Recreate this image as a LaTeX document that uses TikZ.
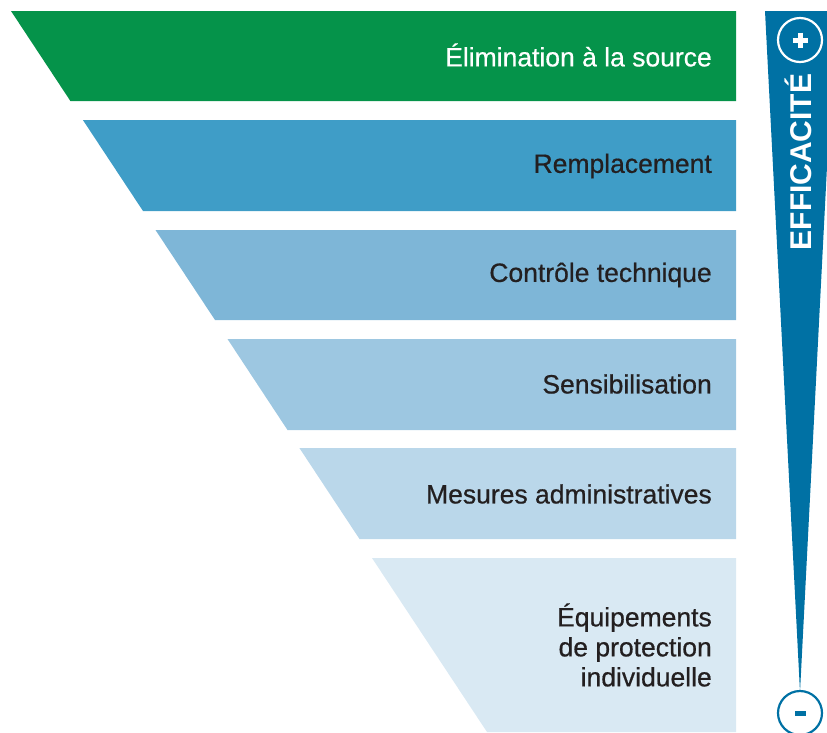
\documentclass[tikz,border=0pt]{standalone}
\usepackage{fontspec}
\setmainfont{Liberation Sans}
\definecolor{vert}{HTML}{05934A}
\definecolor{bleuA}{HTML}{3F9DC7}
\definecolor{bleuB}{HTML}{7EB6D7}
\definecolor{bleuC}{HTML}{9DC7E1}
\definecolor{bleuD}{HTML}{BAD7EA}
\definecolor{bleuE}{HTML}{D9E9F3}
\definecolor{barre}{HTML}{0071A4}
\definecolor{texte}{HTML}{231F20}
\tikzset{
  etiquette/.style={anchor=east, align=right, text=texte,
    font=\fontsize{26.5}{30}\selectfont\addfontfeatures{FakeBold=0.6}, inner sep=0pt},
}
\begin{document}
\begin{tikzpicture}[x=1pt, y=-1pt]
    \useasboundingbox (0,0) rectangle (827,732);
    % niveaux
    \fill[vert]  (11,11)   -- (736,11)  -- (736,101) -- (70.4,101) -- cycle;
    \fill[bleuA] (82.9,120) -- (736,120) -- (736,211) -- (143,211) -- cycle;
    \fill[bleuB] (155.5,230) -- (736,230) -- (736,320) -- (215,320) -- cycle;
    \fill[bleuC] (227.5,339) -- (736,339) -- (736,430) -- (287.5,430) -- cycle;
    \fill[bleuD] (299.4,448) -- (736,448) -- (736,539) -- (359.5,539) -- cycle;
    \fill[bleuE] (372,558) -- (736,558) -- (736,732) -- (487,732) -- cycle;
    \node[etiquette, text=white] (elim) at (712,55) {Élimination à la source};
    \node[etiquette] (rempl) at (712,166) {Remplacement};
    \node[etiquette] (ctrl) at (712,275) {Contrôle technique};
    \node[etiquette] (sensi) at (712,384) {Sensibilisation};
    \node[etiquette] (mesur) at (712,494) {Mesures administratives};
    \node[etiquette] (epi) at (712,645) {Équipements\\de protection\\individuelle};
    % barre d'efficacite
    \begin{scope}
        \clip (0,0) rectangle (827,732);
        \fill[barre] (765,11) -- (835,11) -- (800,692) -- cycle;
    \end{scope}
    \node[rotate=90, anchor=base, text=white, inner sep=0pt,
          font=\fontsize{30}{30}\bfseries\selectfont] (effic) at (811,162) {EFFICACITÉ};
    \node[circle, draw=white, line width=2.2pt, minimum size=44pt, inner sep=0pt] (plus) at (800,40) {};
    \draw[white, line width=5pt] (plus.center) ++(-7.5,0) -- ++(15,0);
    \draw[white, line width=5pt] (plus.center) ++(0,-7.5) -- ++(0,15);
    \node[circle, draw=barre, fill=white, line width=2.2pt, minimum size=44pt, inner sep=0pt] (moins) at (800,713) {};
    \fill[barre] (moins.center) ++(-5.5,-2.5) rectangle ++(11,5);
\end{tikzpicture}
\end{document}
